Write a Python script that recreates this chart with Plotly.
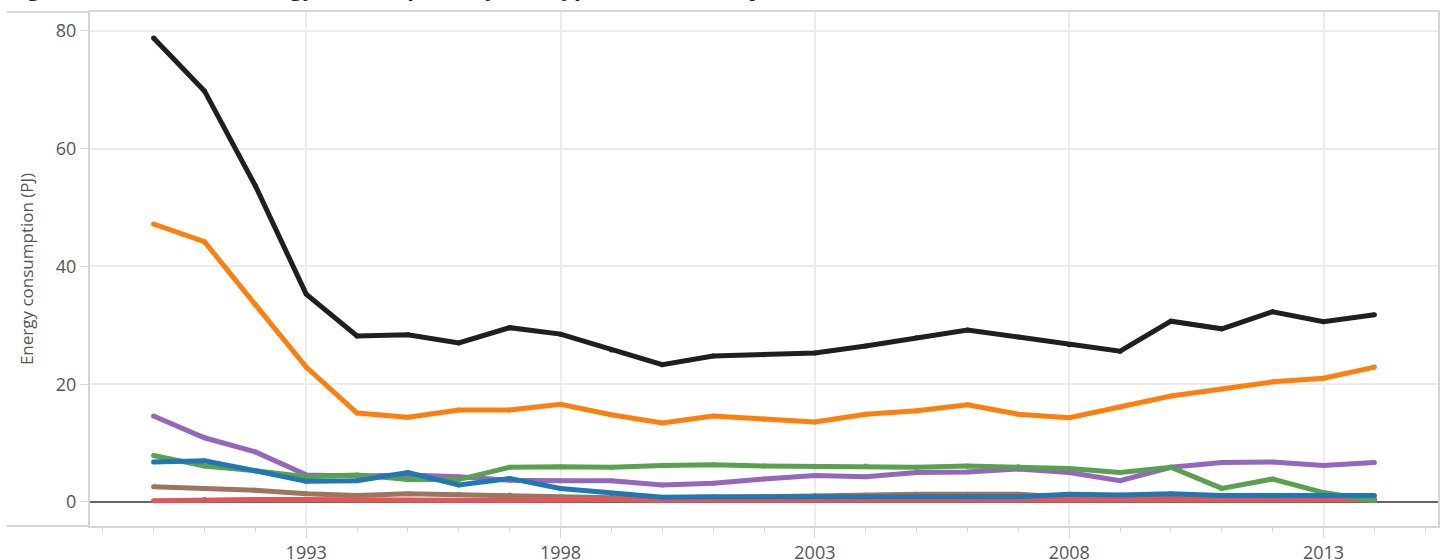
import plotly.graph_objects as go

years = list(range(1990, 2015))

total = [78.8, 69.8, 53.7, 35.3, 28.2, 28.4, 27.0, 29.6, 28.5, 25.8, 23.3, 24.8, 25.0,
         25.3, 26.5, 27.9, 29.2, 28.0, 26.7, 25.6, 30.7, 29.4, 32.3, 30.6, 31.8]
orange = [47.2, 44.2, 33.5, 22.9, 15.1, 14.4, 15.6, 15.6, 16.6, 14.8, 13.4, 14.6, 14.1,
          13.6, 14.9, 15.5, 16.5, 14.9, 14.3, 16.1, 18.0, 19.2, 20.4, 21.0, 22.9]
purple = [14.6, 10.9, 8.5, 4.6, 4.4, 4.6, 4.3, 3.7, 3.6, 3.6, 2.9, 3.2, 3.9,
          4.5, 4.3, 5.0, 5.1, 5.6, 5.0, 3.6, 5.9, 6.7, 6.8, 6.2, 6.7]
green = [7.9, 6.1, 5.3, 4.3, 4.6, 3.8, 3.8, 5.9, 6.0, 5.9, 6.2, 6.3, 6.1,
         6.0, 6.1, 5.9, 6.1, 6.0, 5.7, 5.0, 5.9, 2.3, 3.9, 1.6, 0.2]
blue = [6.8, 7.0, 5.3, 3.5, 3.6, 5.0, 2.9, 4.0, 2.3, 1.5, 0.8, 0.9, 0.9,
        0.9, 0.9, 1.0, 1.0, 0.9, 1.3, 1.2, 1.4, 1.1, 1.1, 1.1, 1.1]
brown = [2.6, 2.3, 2.0, 1.4, 1.1, 1.4, 1.3, 1.2, 0.9, 0.7, 0.6, 0.7, 0.9,
         1.1, 1.2, 1.3, 1.3, 1.3, 0.8, 0.7, 0.7, 0.6, 0.6, 0.6, 0.5]
red = [0.2, 0.4, 0.4, 0.4, 0.3, 0.3, 0.3, 0.3, 0.4, 0.4, 0.3, 0.3, 0.3,
       0.3, 0.3, 0.4, 0.4, 0.4, 0.5, 0.5, 0.5, 0.4, 0.4, 0.4, 0.4]

series = [
    ("Brown", brown, "#9c755f"),
    ("Red", red, "#e15759"),
    ("Purple", purple, "#9467bd"),
    ("Green", green, "#59a14f"),
    ("Blue", blue, "#1f77b4"),
    ("Orange", orange, "#ff7f0e"),
    ("Total", total, "#1f1f1f"),
]

fig = go.Figure()
for name, vals, col in series:
    fig.add_trace(go.Scatter(
        x=years, y=vals, name=name, mode="lines+markers",
        line=dict(color=col, width=5),
        marker=dict(color=col, size=5),
    ))

font_family = "Open Sans"
tick_color = "#555555"
frame = "#d6d6d6"

fig.update_layout(
    width=1446, height=560,
    margin=dict(l=90, r=8, t=12, b=34, autoexpand=False),
    paper_bgcolor="white", plot_bgcolor="white",
    showlegend=False,
    font=dict(family=font_family, size=17, color=tick_color),
    xaxis=dict(
        range=[1988.75, 2015.25],
        tick0=1993, dtick=5,
        ticks="outside", ticklen=10, tickcolor=frame,
        showgrid=True, gridcolor="#ececec", gridwidth=1.5,
        showline=True, linecolor=frame, linewidth=2, mirror=True,
        zeroline=False, automargin=False,
        ticklabelstandoff=-1,
        tickfont=dict(size=18, color=tick_color),
        minor=dict(dtick=1, tick0=1988, ticks="outside", ticklen=4,
                   tickcolor=frame, showgrid=False),
    ),
    yaxis=dict(
        range=[-4.08, 83.2],
        tickvals=[0, 20, 40, 60, 80],
        ticks="outside", ticklen=8, tickcolor=frame,
        showgrid=True, gridcolor="#ececec", gridwidth=1.5,
        showline=True, linecolor=frame, linewidth=2, mirror=True,
        zeroline=True, zerolinecolor="#666666", zerolinewidth=1.5,
        automargin=False,
        tickfont=dict(size=18, color=tick_color),
        title=dict(text="Energy consumption (PJ)", font=dict(size=17, color=tick_color),
                   standoff=18),
    ),
    shapes=[
        dict(type="line", xref="paper", yref="paper", x0=-83 / 1348, x1=0, y0=0, y1=0,
             line=dict(color=frame, width=2)),
        dict(type="line", xref="paper", yref="paper", x0=-83 / 1348, x1=0, y0=1, y1=1,
             line=dict(color=frame, width=2)),
    ],
    annotations=[
        dict(text="<b>Figure 4.3: Industrial energy consumption by fuel type, 1990–2014 (PJ)</b>",
             xref="paper", yref="paper", x=-83 / 1348, y=(526 - 4) / 514,
             xanchor="left", yanchor="bottom", showarrow=False,
             font=dict(size=22, color="#222222", family=font_family)),
    ],
)

fig.write_html("out.html",
               config={"displayModeBar": False},
               post_script="document.body.style.margin='0';document.body.style.overflow='hidden';")
